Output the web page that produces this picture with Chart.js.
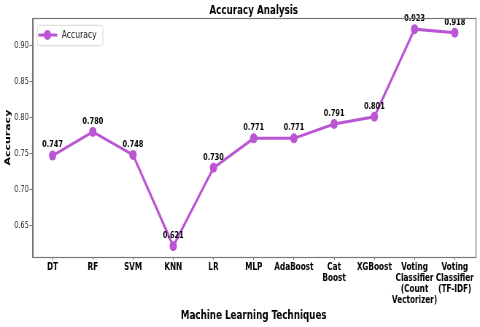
<!DOCTYPE html>
<html>
<head>
<meta charset="utf-8">
<script src="https://cdn.jsdelivr.net/npm/chart.js"></script>
<style>
  html, body { margin: 0; padding: 0; background: #ffffff; overflow: hidden; }
  /* the reference is a wider figure squeezed into 480px, so draw wide and squeeze */
  #wrap { width: 658px; height: 327px; transform: scaleX(0.7295); transform-origin: 0 0; }
</style>
</head>
<body>
<div id="wrap"><canvas id="accChart" width="658" height="327"></canvas></div>
<script>
// data
const models = [
  'DT', 'RF', 'SVM', 'KNN', 'LR', 'MLP', 'AdaBoost',
  ['Cat', 'Boost'], 'XGBoost',
  ['Voting', 'Classifier', '(Count', 'Vectorizer)'],
  ['Voting', 'Classifier', '(TF-IDF)']
];
const accuracy = [0.747, 0.780, 0.748, 0.621, 0.730, 0.771, 0.771, 0.791, 0.801, 0.923, 0.918];
const yTicks = [0.65, 0.70, 0.75, 0.80, 0.85, 0.90];

const FONT = "'DejaVu Sans', sans-serif";
const LINE_COLOR = '#ba55d3';
const SPINE = '#777777';

// value labels above each point
const valueLabels = {
  id: 'valueLabels',
  afterDatasetsDraw(chart) {
    const ctx = chart.ctx;
    const meta = chart.getDatasetMeta(0);
    const vals = chart.data.datasets[0].data;
    ctx.save();
    ctx.font = 'bold 9px ' + FONT;
    ctx.fillStyle = '#000';
    ctx.textAlign = 'center';
    ctx.textBaseline = 'bottom';
    meta.data.forEach((pt, i) => {
      ctx.fillText(vals[i].toFixed(3), pt.x, pt.y - 6);
    });
    ctx.restore();
  }
};

// box round the plot + legend inside upper left
const frameAndLegend = {
  id: 'frameAndLegend',
  afterDraw(chart) {
    const { ctx, chartArea: a } = chart;
    const ds = chart.data.datasets[0];
    ctx.save();
    ctx.strokeStyle = SPINE;
    ctx.lineWidth = 1.2;
    ctx.strokeRect(Math.round(a.left) + 0.5, Math.round(a.top) + 0.5,
      Math.round(a.right - a.left), Math.round(a.bottom - a.top));

    // legend
    const lx = a.left + 6, ly = a.top + 6.5, lw = 90, lh = 20.5;
    ctx.fillStyle = 'rgba(255,255,255,0.85)';
    ctx.strokeStyle = '#d6d6d6';
    ctx.lineWidth = 1;
    ctx.beginPath();
    ctx.roundRect(lx + 0.5, ly + 0.5, lw, lh, 3);
    ctx.fill();
    ctx.stroke();

    const cy = ly + lh / 2;
    ctx.strokeStyle = ds.borderColor;
    ctx.lineWidth = 3;
    ctx.beginPath();
    ctx.moveTo(lx + 2, cy);
    ctx.lineTo(lx + 28, cy);
    ctx.stroke();
    ctx.fillStyle = ds.borderColor;
    ctx.beginPath();
    ctx.arc(lx + 14.5, cy, 5, 0, Math.PI * 2);
    ctx.fill();

    ctx.fillStyle = '#222';
    ctx.font = '10.5px ' + FONT;
    ctx.textAlign = 'left';
    ctx.textBaseline = 'middle';
    ctx.fillText(ds.label, lx + 34, cy + 0.5);
    ctx.restore();
  }
};

new Chart(document.getElementById('accChart'), {
  type: 'line',
  data: {
    labels: models,
    datasets: [{
      label: 'Accuracy',
      data: accuracy,
      borderColor: LINE_COLOR,
      backgroundColor: LINE_COLOR,
      borderWidth: 3,
      pointRadius: 5,
      pointHoverRadius: 5,
      pointBorderWidth: 0,
      tension: 0
    }]
  },
  options: {
    responsive: false,
    animation: false,
    devicePixelRatio: 1,
    layout: { padding: { left: 0, right: 7, top: 0, bottom: 0 } },
    plugins: {
      legend: { display: false },
      tooltip: { enabled: false },
      title: {
        display: true,
        text: 'Accuracy Analysis',
        fullSize: false,
        color: '#000',
        font: { family: FONT, size: 12, weight: 'bold' },
        padding: { top: 3.5, bottom: 0.4 }
      }
    },
    scales: {
      x: {
        offset: true,
        grid: { drawOnChartArea: false, drawTicks: true, tickLength: 3, color: SPINE },
        border: { display: true, color: SPINE },
        ticks: {
          color: '#000',
          padding: 2,
          maxRotation: 0,
          autoSkip: false,
          font: { family: FONT, size: 10, weight: 'bold', lineHeight: 1.1 }
        },
        title: {
          display: true,
          text: 'Machine Learning Techniques',
          color: '#000',
          font: { family: FONT, size: 12, weight: 'bold' },
          padding: { top: 0, bottom: 4 }
        },
        afterFit(scale) { scale.height = 70; }
      },
      y: {
        min: 0.6059,
        max: 0.9381,
        grid: { drawOnChartArea: false, drawTicks: true, tickLength: 4, color: SPINE },
        border: { display: true, color: SPINE },
        afterBuildTicks(scale) { scale.ticks = yTicks.map(v => ({ value: v })); },
        ticks: {
          color: '#222',
          padding: 1,
          font: { family: FONT, size: 9 },
          callback: v => Number(v).toFixed(2)
        },
        title: {
          display: true,
          text: 'Accuracy',
          color: '#000',
          font: { family: FONT, size: 11, weight: 'bold' },
          padding: { top: 4.4, bottom: 0 }
        },
        afterFit(scale) { scale.width = 44.5; }
      }
    }
  },
  plugins: [valueLabels, frameAndLegend]
});
</script>
</body>
</html>
